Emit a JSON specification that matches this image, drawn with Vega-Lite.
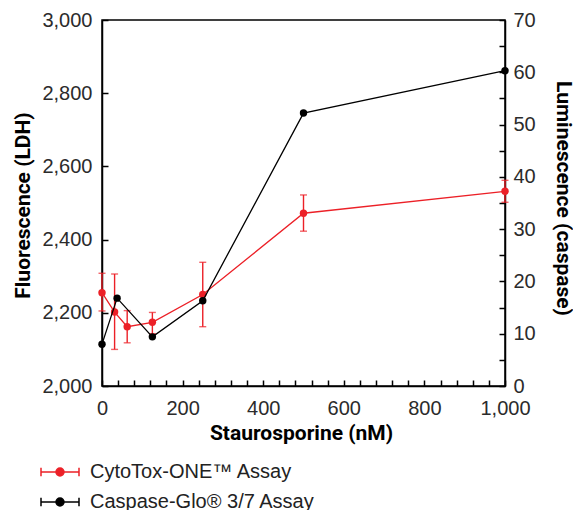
{
  "$schema": "https://vega.github.io/schema/vega-lite/v6.json",
  "width": 403,
  "height": 366,
  "autosize": {"type": "none"},
  "padding": {"left": 102, "top": 20, "right": 68, "bottom": 124},
  "background": "white",
  "config": {
    "view": {"stroke": "#000", "strokeWidth": 1.5},
    "axis": {
      "domainColor": "#000",
      "domainWidth": 1.5,
      "tickColor": "#000",
      "tickWidth": 1.5,
      "tickSize": -6,
      "labelFont": "Liberation Sans",
      "labelFontSize": 20,
      "labelColor": "#2b2b2b",
      "labelOverlap": false,
      "labelFlush": false,
      "grid": false,
      "titleFont": "Roboto",
      "titleFontSize": 21,
      "titleFontWeight": "bold",
      "titleColor": "#000",
      "titleBaseline": "middle",
      "titleAlign": "center"
    }
  },
  "data": {
    "values": [
      {"assay": "CytoTox-ONE™ Assay", "conc": 0, "ldh": 2255, "lo": 2205, "hi": 2308},
      {"assay": "CytoTox-ONE™ Assay", "conc": 31.25, "ldh": 2202, "lo": 2100, "hi": 2306},
      {"assay": "CytoTox-ONE™ Assay", "conc": 62.5, "ldh": 2162, "lo": 2118, "hi": 2206},
      {"assay": "CytoTox-ONE™ Assay", "conc": 125, "ldh": 2174, "lo": 2143, "hi": 2201},
      {"assay": "CytoTox-ONE™ Assay", "conc": 250, "ldh": 2250, "lo": 2162, "hi": 2338},
      {"assay": "CytoTox-ONE™ Assay", "conc": 500, "ldh": 2472, "lo": 2423, "hi": 2522},
      {"assay": "CytoTox-ONE™ Assay", "conc": 1000, "ldh": 2532, "lo": 2502, "hi": 2562},
      {"assay": "Caspase-Glo® 3/7 Assay", "conc": 0, "casp": 8.0},
      {"assay": "Caspase-Glo® 3/7 Assay", "conc": 37.5, "casp": 16.8},
      {"assay": "Caspase-Glo® 3/7 Assay", "conc": 125, "casp": 9.4},
      {"assay": "Caspase-Glo® 3/7 Assay", "conc": 250, "casp": 16.3},
      {"assay": "Caspase-Glo® 3/7 Assay", "conc": 500, "casp": 52.2},
      {"assay": "Caspase-Glo® 3/7 Assay", "conc": 1000, "casp": 60.3}
    ]
  },
  "encoding": {
    "x": {
      "field": "conc",
      "type": "quantitative",
      "scale": {"domain": [0, 1000], "nice": false, "zero": false},
      "axis": {
        "values": [0, 40, 80, 120, 160, 200, 240, 280, 320, 360, 400, 440, 480, 520, 560, 600, 640, 680, 720, 760, 800, 840, 880, 920, 960, 1000],
        "format": ",d",
        "labelExpr": "datum.value % 200 === 0 ? datum.label : ''",
        "labelPadding": 18,
        "title": "Staurosporine (nM)",
        "titleX": 199,
        "titleY": 47
      }
    }
  },
  "layer": [
    {
      "transform": [{"filter": "datum.assay === 'CytoTox-ONE™ Assay'"}],
      "layer": [
        {
          "mark": {"type": "rule", "color": "#ec2027", "strokeWidth": 1.4},
          "encoding": {
            "y": {
              "field": "lo",
              "type": "quantitative",
              "title": "Fluorescence (LDH)",
              "scale": {"domain": [2000, 3000], "nice": false, "zero": false},
              "axis": {
                "orient": "left",
                "values": [2000, 2100, 2200, 2300, 2400, 2500, 2600, 2700, 2800, 2900, 3000],
                "format": ",d",
                "labelExpr": "datum.value % 200 === 0 ? datum.label : ''",
                "labelPadding": 16,
                "titleAngle": -90,
                "titleX": -79,
                "titleY": 185
              }
            },
            "y2": {"field": "hi"}
          }
        },
        {
          "mark": {"type": "tick", "orient": "horizontal", "color": "#ec2027", "size": 7, "thickness": 1.4},
          "encoding": {"y": {"field": "lo", "type": "quantitative", "title": "Fluorescence (LDH)"}}
        },
        {
          "mark": {"type": "tick", "orient": "horizontal", "color": "#ec2027", "size": 7, "thickness": 1.4},
          "encoding": {"y": {"field": "hi", "type": "quantitative", "title": "Fluorescence (LDH)"}}
        },
        {
          "mark": {"type": "line", "strokeWidth": 1.3},
          "encoding": {
            "y": {"field": "ldh", "type": "quantitative", "title": "Fluorescence (LDH)"},
            "color": {
              "field": "assay",
              "type": "nominal",
              "scale": {"domain": ["CytoTox-ONE™ Assay", "Caspase-Glo® 3/7 Assay"], "range": ["#ec2027", "#000000"]},
              "legend": {
                "orient": "none",
                "legendX": -62,
                "legendY": 432,
                "direction": "vertical",
                "title": null,
                "padding": 0,
                "labelFont": "Liberation Sans",
                "labelFontSize": 20,
                "labelColor": "#222",
                "labelOffset": 10,
                "labelLimit": 400,
                "symbolType": "M-1,0H1M-1,-0.22V0.22M1,-0.22V0.22M0.21,0A0.21,0.21,0,1,1,-0.21,0A0.21,0.21,0,1,1,0.21,0Z",
                "symbolSize": 1444,
                "symbolStrokeWidth": 1.5,
                "rowPadding": 0,
                "encode": {
                  "symbols": {
                    "update": {
                      "fill": {"scale": "color", "field": "value"},
                      "stroke": {"scale": "color", "field": "value"},
                      "opacity": {"value": 1}
                    }
                  }
                }
              }
            }
          }
        },
        {
          "mark": {"type": "point", "filled": true, "size": 55, "opacity": 1},
          "encoding": {
            "y": {"field": "ldh", "type": "quantitative", "title": "Fluorescence (LDH)"},
            "color": {"field": "assay", "type": "nominal"}
          }
        }
      ]
    },
    {
      "transform": [{"filter": "datum.assay === 'Caspase-Glo® 3/7 Assay'"}],
      "encoding": {
        "y": {
          "field": "casp",
          "type": "quantitative",
          "title": "Luminescence (caspase)",
          "scale": {"domain": [0, 70], "nice": false},
          "axis": {
            "orient": "right",
            "values": [0, 5, 10, 15, 20, 25, 30, 35, 40, 45, 50, 55, 60, 65, 70],
            "format": ",d",
            "labelExpr": "datum.value % 10 === 0 ? datum.label : ''",
            "labelPadding": 14,
            "titleAngle": 90,
            "titleX": 57,
            "titleY": 178
          }
        },
        "color": {"field": "assay", "type": "nominal"}
      },
      "layer": [
        {"mark": {"type": "line", "strokeWidth": 1.3}},
        {"mark": {"type": "point", "filled": true, "size": 55, "opacity": 1}}
      ]
    }
  ],
  "resolve": {"scale": {"y": "independent"}}
}
